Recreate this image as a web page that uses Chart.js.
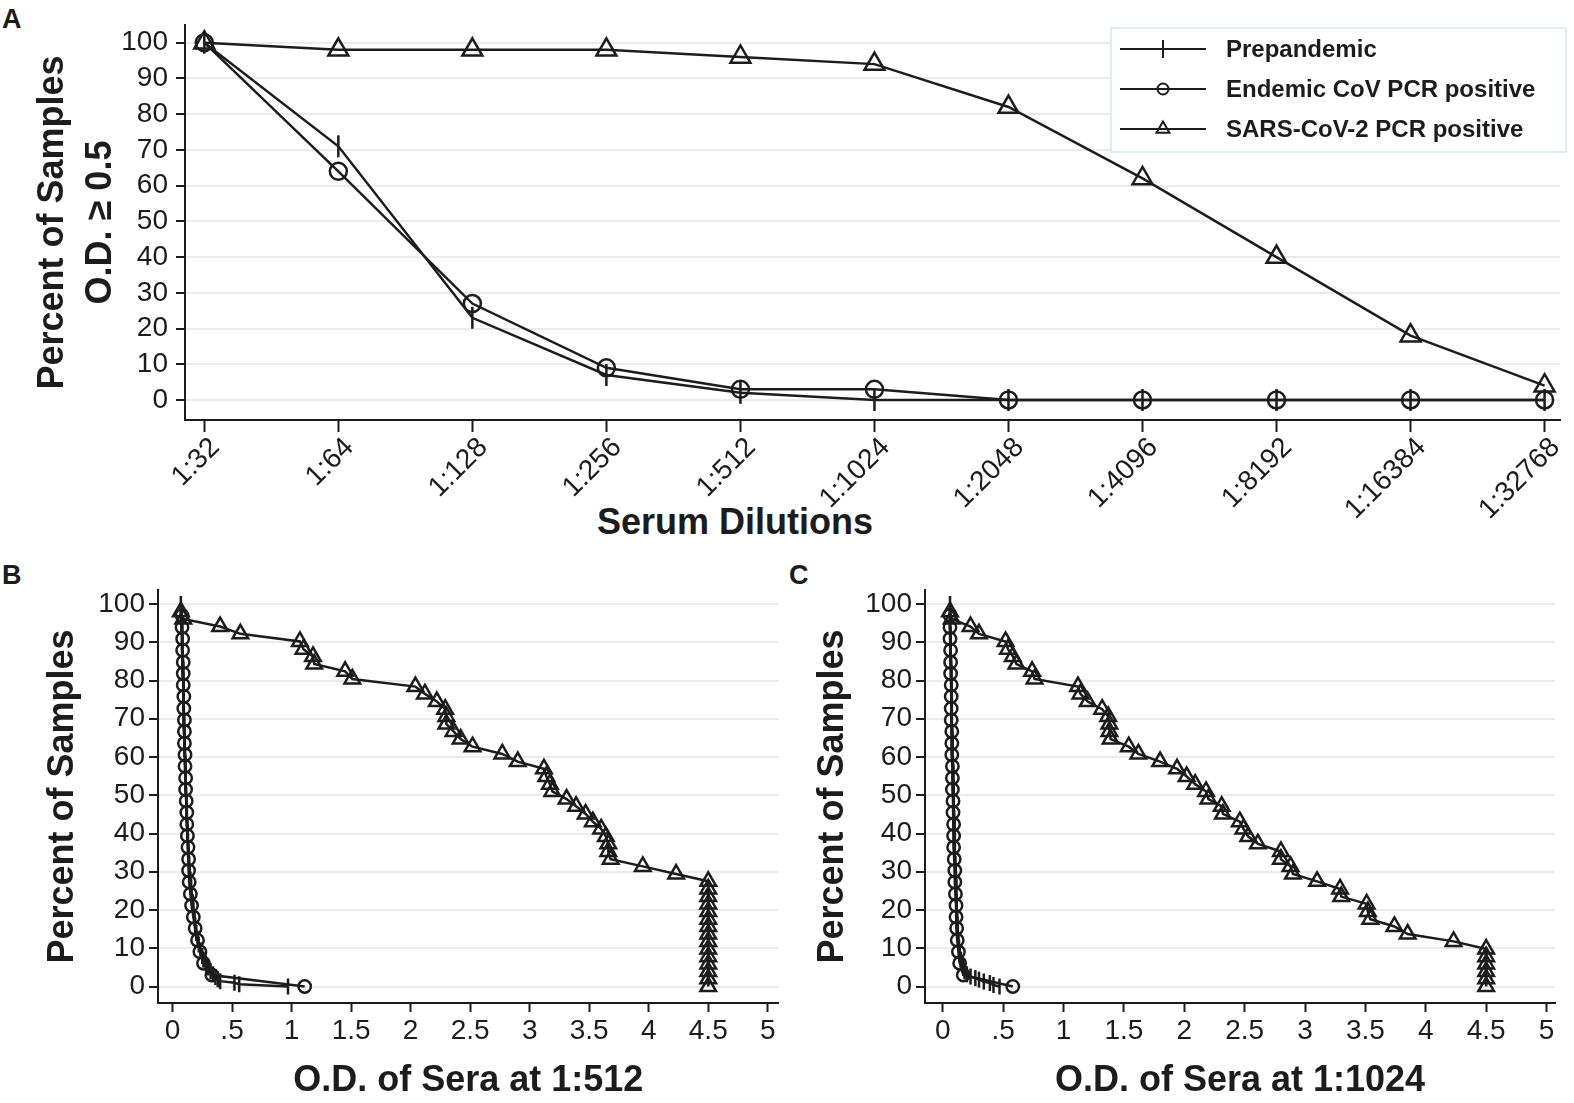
<!DOCTYPE html>
<html>
<head>
<meta charset="utf-8">
<script src="https://cdn.jsdelivr.net/npm/chart.js@4.4.0/dist/chart.umd.min.js"></script>
<style>
  body { margin: 0; background: #fff; width: 1574px; height: 1103px; position: relative; overflow: hidden;
         font-family: "Liberation Sans", Arial, sans-serif; color: #1c1c1c; }
  canvas { position: absolute; }
  .tag { position: absolute; font-weight: bold; font-size: 27px; line-height: 1; }
  .xtitle { position: absolute; font-weight: bold; font-size: 36px; transform: translate(-50%, -50%); white-space: nowrap; }
</style>
</head>
<body>
<div class="tag" style="left:2px;top:6px">A</div>
<div class="tag" style="left:2px;top:562px">B</div>
<div class="tag" style="left:789px;top:562px">C</div>
<div class="xtitle" style="left:735px;top:522px">Serum Dilutions</div>

<canvas id="chartA" width="1574" height="560" style="left:0;top:0;width:1574px;height:560px"></canvas>
<canvas id="chartB" width="790" height="543" style="left:0;top:560px;width:790px;height:543px"></canvas>
<canvas id="chartC" width="784" height="543" style="left:790px;top:560px;width:784px;height:543px"></canvas>

<script>
// --- Data ---
const dilutions = ['1:32', '1:64', '1:128', '1:256', '1:512', '1:1024', '1:2048', '1:4096', '1:8192', '1:16384', '1:32768'];
const prepandemicA = [100, 71, 23, 7, 2, 0, 0, 0, 0, 0, 0];
const endemicA = [100, 64, 27, 9, 3, 3, 0, 0, 0, 0, 0];
const sarsA = [100, 98, 98, 98, 96, 94, 82, 62, 40, 18, 4];

const percentTicks = [0, 10, 20, 30, 40, 50, 60, 70, 80, 90, 100];
const odTicks = [0, 0.5, 1, 1.5, 2, 2.5, 3, 3.5, 4, 4.5, 5];
const odTickLabels = ['0', '.5', '1', '1.5', '2', '2.5', '3', '3.5', '4', '4.5', '5'];

// panel B (1:512)
const prepB_pct = [100, 98, 96, 94, 92, 90, 88, 86, 84, 82, 80, 78, 76, 74, 72, 70, 68, 66, 64, 62, 60, 58, 56, 54, 52, 50,
  48, 46, 44, 42, 40, 38, 36, 34, 32, 30, 28, 26, 24, 22, 20, 18, 16, 14, 12.5, 11, 9.5, 8, 7, 6, 5, 4, 3.2, 2.5, 1.9, 1.4, 1.0, 0.6, 0];
const prepB_od = [0.07, 0.07, 0.075, 0.075, 0.08, 0.08, 0.08, 0.085, 0.085, 0.085, 0.09, 0.09, 0.09, 0.09, 0.095, 0.095, 0.095,
  0.10, 0.10, 0.10, 0.105, 0.105, 0.11, 0.11, 0.11, 0.115, 0.115, 0.12, 0.12, 0.125, 0.125, 0.13, 0.13, 0.135, 0.14, 0.145,
  0.15, 0.155, 0.16, 0.17, 0.175, 0.185, 0.19, 0.20, 0.21, 0.22, 0.235, 0.25, 0.26, 0.28, 0.30, 0.32, 0.34, 0.36, 0.38, 0.40,
  0.52, 0.56, 0.97];

const endemicPct = [97.0, 93.9, 90.9, 87.9, 84.8, 81.8, 78.8, 75.8, 72.7, 69.7, 66.7, 63.6, 60.6, 57.6, 54.5, 51.5, 48.5,
  45.5, 42.4, 39.4, 36.4, 33.3, 30.3, 27.3, 24.2, 21.2, 18.2, 15.2, 12.1, 9.1, 6.1, 3.0, 0];
const endB_od = [0.08, 0.08, 0.085, 0.085, 0.09, 0.09, 0.09, 0.095, 0.095, 0.10, 0.10, 0.10, 0.105, 0.105, 0.11, 0.11, 0.115,
  0.12, 0.12, 0.125, 0.13, 0.135, 0.135, 0.14, 0.15, 0.16, 0.175, 0.19, 0.21, 0.23, 0.26, 0.33, 1.11];

const sarsPct = [98.0, 96.1, 94.1, 92.2, 90.2, 88.2, 86.3, 84.3, 82.4, 80.4, 78.4, 76.5, 74.5, 72.5, 70.6, 68.6, 66.7, 64.7,
  62.7, 60.8, 58.8, 56.9, 54.9, 52.9, 51.0, 49.0, 47.1, 45.1, 43.1, 41.2, 39.2, 37.3, 35.3, 33.3, 31.4, 29.4, 27.5, 25.5,
  23.5, 21.6, 19.6, 17.6, 15.7, 13.7, 11.8, 9.8, 7.8, 5.9, 3.9, 2.0, 0];
const sarsB_od = [0.07, 0.09, 0.40, 0.57, 1.07, 1.10, 1.18, 1.19, 1.45, 1.51, 2.04, 2.12, 2.22, 2.29, 2.30, 2.30, 2.36, 2.42,
  2.52, 2.77, 2.90, 3.12, 3.14, 3.17, 3.19, 3.31, 3.39, 3.47, 3.53, 3.60, 3.64, 3.66, 3.66, 3.68, 3.95, 4.23,
  4.5, 4.5, 4.5, 4.5, 4.5, 4.5, 4.5, 4.5, 4.5, 4.5, 4.5, 4.5, 4.5, 4.5, 4.5];

// panel C (1:1024)
const prepC_pct = [100, 98, 96, 94, 92, 90, 88, 86, 84, 82, 80, 78, 76, 74, 72, 70, 68, 66, 64, 62, 60, 58, 56, 54, 52, 50,
  48, 46, 44, 42, 40, 38, 36, 34, 32, 30, 28, 26, 24, 22, 20, 18, 16, 14, 12, 10, 8.5, 7, 6, 5, 4, 3.2, 2.6, 2.2, 1.8, 1.3, 0.9, 0.4, 0];
const prepC_od = [0.06, 0.06, 0.06, 0.06, 0.065, 0.065, 0.065, 0.065, 0.07, 0.07, 0.07, 0.07, 0.07, 0.075, 0.075, 0.075, 0.075,
  0.08, 0.08, 0.08, 0.08, 0.085, 0.085, 0.085, 0.09, 0.09, 0.09, 0.09, 0.095, 0.095, 0.095, 0.10, 0.10, 0.10, 0.105, 0.105,
  0.11, 0.11, 0.11, 0.115, 0.115, 0.12, 0.12, 0.125, 0.13, 0.135, 0.14, 0.15, 0.16, 0.17, 0.18, 0.20, 0.23, 0.27, 0.30, 0.34,
  0.39, 0.42, 0.47];
const endC_od = [0.06, 0.06, 0.06, 0.065, 0.065, 0.065, 0.07, 0.07, 0.07, 0.07, 0.075, 0.075, 0.075, 0.08, 0.08, 0.08, 0.085,
  0.085, 0.09, 0.09, 0.09, 0.095, 0.10, 0.10, 0.105, 0.11, 0.11, 0.115, 0.12, 0.13, 0.14, 0.17, 0.58];
const sarsC_od = [0.06, 0.075, 0.23, 0.30, 0.52, 0.54, 0.58, 0.61, 0.74, 0.76, 1.12, 1.14, 1.20, 1.32, 1.37, 1.38, 1.38, 1.39,
  1.54, 1.62, 1.80, 1.94, 2.02, 2.09, 2.18, 2.20, 2.31, 2.32, 2.46, 2.49, 2.53, 2.61, 2.80, 2.80, 2.88, 2.90, 3.10, 3.29,
  3.30, 3.51, 3.52, 3.54, 3.74, 3.85, 4.23, 4.5, 4.5, 4.5, 4.5, 4.5, 4.5];

const seriesNames = ['Prepandemic', 'Endemic CoV PCR positive', 'SARS-CoV-2 PCR positive'];

// --- Styling ---
const ink = '#1c1c1c';
const gridGrey = '#ebebeb';
const fontFamily = '"Liberation Sans", Arial, sans-serif';
Chart.defaults.font.family = fontFamily;
Chart.defaults.color = ink;

function markerStyle(kind, big) {
  const base = {
    borderColor: ink,
    borderWidth: 2.5,
    pointBorderColor: ink,
    pointBackgroundColor: 'rgba(0,0,0,0)',
    pointBorderWidth: 2.5,
    pointHoverRadius: 0,
    tension: 0,
    fill: false
  };
  if (kind === 0) return Object.assign(base, { pointStyle: 'line', pointRotation: 90, pointRadius: big ? 11 : 8 });
  if (kind === 1) return Object.assign(base, { pointStyle: 'circle', pointRadius: big ? 8.5 : 6.2 });
  return Object.assign(base, { pointStyle: 'triangle', pointRadius: big ? 11.5 : 9 });
}

function pairs(xs, ys) {
  return xs.map((x, i) => ({ x: x, y: ys[i] }));
}

function percentAxis(min, max, width, titleText, titleFont, titlePad, tickSize, tickPad) {
  return {
    type: 'linear',
    min: min,
    max: max,
    afterBuildTicks: s => { s.ticks = percentTicks.map(v => ({ value: v })); },
    afterFit: s => { s.width = width; },
    border: { color: ink, width: 2 },
    grid: { color: gridGrey, lineWidth: 2, tickColor: ink, tickLength: 9, tickWidth: 2 },
    ticks: { font: { size: tickSize }, color: ink, padding: tickPad, autoSkip: false },
    title: { display: true, text: titleText, font: titleFont, color: ink, padding: { top: titlePad, bottom: 0 } }
  };
}

const baseOptions = {
  responsive: false,
  animation: false,
  events: [],
  plugins: { legend: { display: false }, tooltip: { enabled: false } }
};

// legend with line + marker samples (panel A)
const lineLegend = {
  id: 'lineLegend',
  afterDraw(chart) {
    const ctx = chart.ctx;
    const sizes = [9, 5.5, 7.5];
    ctx.save();
    ctx.fillStyle = '#fff';
    ctx.fillRect(1111, 28, 455, 124);
    ctx.strokeStyle = '#dbe6e6';
    ctx.lineWidth = 1.5;
    ctx.strokeRect(1111, 28, 455, 124);
    ctx.font = 'bold 24px ' + fontFamily;
    ctx.textBaseline = 'middle';
    chart.data.datasets.forEach((ds, i) => {
      const y = 49 + i * 40;
      ctx.strokeStyle = ink;
      ctx.lineWidth = 2;
      ctx.beginPath();
      ctx.moveTo(1120, y);
      ctx.lineTo(1206, y);
      ctx.stroke();
      ctx.fillStyle = 'rgba(0,0,0,0)';
      Chart.helpers.drawPoint(ctx, {
        pointStyle: ds.pointStyle, rotation: ds.pointRotation || 0, radius: sizes[i], borderWidth: 2
      }, 1163, y);
      ctx.fillStyle = ink;
      ctx.fillText(ds.label, 1226, y + 1);
    });
    ctx.restore();
  }
};

// 45 degree dilution labels, anchored at each tick of the x scale
const slantLabels = {
  id: 'slantLabels',
  afterDraw(chart) {
    const ctx = chart.ctx;
    const sx = chart.scales.x;
    ctx.save();
    ctx.font = '28px ' + fontFamily;
    ctx.fillStyle = ink;
    ctx.textAlign = 'right';
    ctx.textBaseline = 'middle';
    dilutions.forEach((lab, i) => {
      ctx.save();
      ctx.translate(sx.getPixelForValue(i) + 11, sx.top + 23);
      ctx.rotate(-Math.PI / 4);
      ctx.fillText(lab, 0, 0);
      ctx.restore();
    });
    ctx.restore();
  }
};

// --- Panel A ---
const dilutionIndex = dilutions.map((d, i) => i);
new Chart(document.getElementById('chartA'), {
  type: 'line',
  data: {
    datasets: [
      Object.assign({ label: seriesNames[0], data: pairs(dilutionIndex, prepandemicA) }, markerStyle(0, true)),
      Object.assign({ label: seriesNames[1], data: pairs(dilutionIndex, endemicA) }, markerStyle(1, true)),
      Object.assign({ label: seriesNames[2], data: pairs(dilutionIndex, sarsA) }, markerStyle(2, true))
    ]
  },
  options: Object.assign({}, baseOptions, {
    layout: { padding: { top: 25, right: 4, left: 0, bottom: 0 } },
    scales: {
      x: {
        type: 'linear',
        min: -0.144,
        max: 10.115,
        afterBuildTicks: s => { s.ticks = dilutionIndex.map(v => ({ value: v })); },
        afterFit: s => { s.height = 140; },
        border: { color: ink, width: 2 },
        grid: { drawOnChartArea: false, tickColor: ink, tickLength: 12, tickWidth: 2 },
        ticks: { display: false, autoSkip: false }
      },
      y: percentAxis(-5.6, 104.95, 185, ['Percent of Samples', 'O.D. \u2265 0.5'],
        { size: 36, weight: 'bold', lineHeight: 1.33 }, 29, 28, 8)
    }
  }),
  plugins: [slantLabels, lineLegend]
});

// --- Panels B and C ---
function odPanel(id, prepOd, prepPct, endOd, sarsOd, xMin, xMax, yWidth, yTitlePad, padRight, xTitle) {
  return new Chart(document.getElementById(id), {
    type: 'line',
    data: {
      datasets: [
        Object.assign({ label: seriesNames[0], data: pairs(prepOd, prepPct) }, markerStyle(0, false)),
        Object.assign({ label: seriesNames[1], data: pairs(endOd, endemicPct) }, markerStyle(1, false)),
        Object.assign({ label: seriesNames[2], data: pairs(sarsOd, sarsPct) }, markerStyle(2, false))
      ]
    },
    options: Object.assign({}, baseOptions, {
      layout: { padding: { top: 30, right: padRight, left: 0, bottom: 0 } },
      scales: {
        x: {
          type: 'linear',
          min: xMin,
          max: xMax,
          afterBuildTicks: s => { s.ticks = odTicks.map(v => ({ value: v })); },
          afterFit: s => { s.height = 100; },
          border: { color: ink, width: 2 },
          grid: { drawOnChartArea: false, tickColor: ink, tickLength: 9, tickWidth: 2 },
          ticks: {
            font: { size: 28 }, color: ink, padding: 2, autoSkip: false, maxRotation: 0,
            callback: v => odTickLabels[odTicks.indexOf(v)]
          },
          title: { display: true, text: xTitle, font: { size: 36, weight: 'bold' }, color: ink, padding: { top: 0, bottom: 0 } }
        },
        y: percentAxis(-4.31, 103.66, yWidth, 'Percent of Samples', { size: 36, weight: 'bold' }, yTitlePad, 28, 4)
      }
    })
  });
}

odPanel('chartB', prepB_od, prepB_pct, endB_od, sarsB_od, -0.122, 5.09, 158, 41, 3, 'O.D. of Sera at 1:512');
odPanel('chartC', prepC_od, prepC_pct, endC_od, sarsC_od, -0.147, 5.07, 135, 21, 19, 'O.D. of Sera at 1:1024');
</script>
</body>
</html>
